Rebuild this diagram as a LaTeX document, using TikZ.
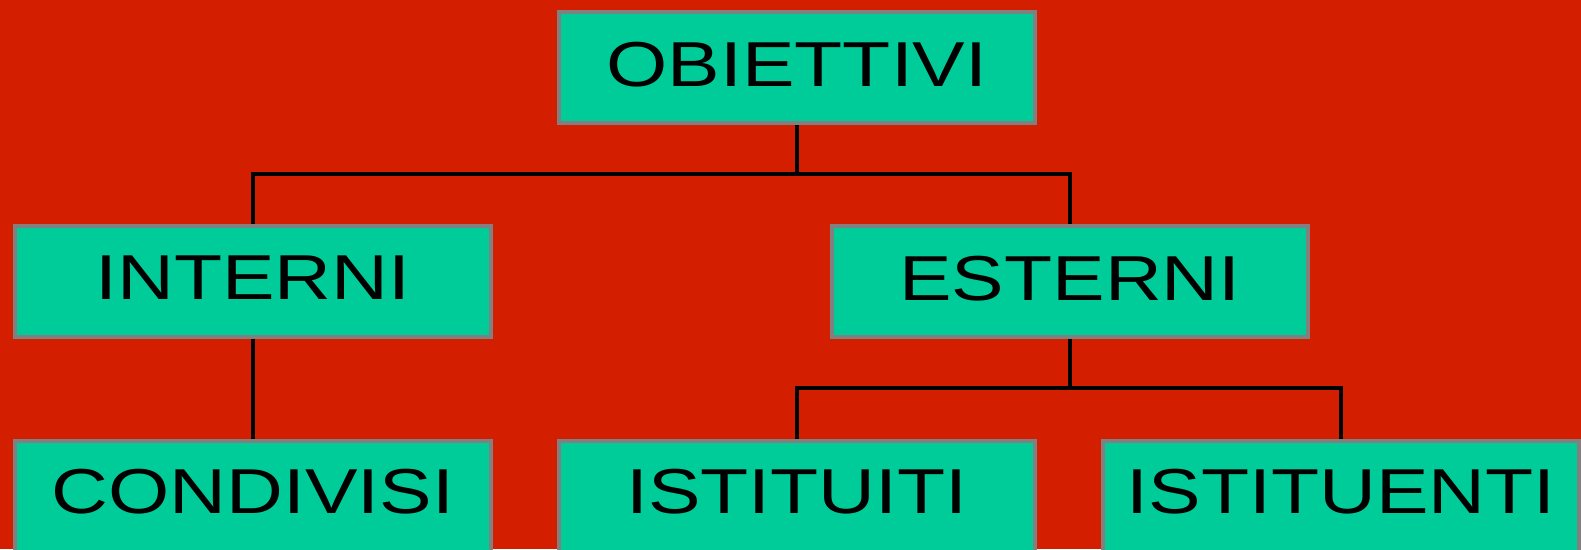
\documentclass[tikz,border=0pt]{standalone}
\usepackage{fontspec}
\setmainfont{Liberation Sans}[FakeStretch=1.24]
\definecolor{bgred}{RGB}{212,30,0}
\definecolor{boxgreen}{RGB}{0,204,153}
\definecolor{boxedge}{RGB}{128,128,128}
\begin{document}
\begin{tikzpicture}[x=1pt,y=-1pt,
  box/.style={rectangle, fill=boxgreen, draw=boxedge, line width=4pt,
    minimum width=476pt, minimum height=111pt, inner sep=0pt,
    text depth=6pt,
    font=\fontsize{63.5}{70}\selectfont},
  lowbox/.style={box, minimum height=121pt, text depth=20pt},
  link/.style={draw=black, line width=4pt}]
  \fill[bgred] (0,0) rectangle (1581,549);
  \useasboundingbox (0,0) rectangle (1581,549);

  \node[box] (obj) at (797,67.5) {OBIETTIVI};
  \node[box] (int) at (253,281) {INTERNI};
  \node[box] (est) at (1070,281) {ESTERNI};
  \node[lowbox] (con) at (253,501) {CONDIVISI};
  \node[lowbox] (ist) at (797,501) {ISTITUITI};
  \node[lowbox] (itu) at (1341,501) {ISTITUENTI};

  % first level branching
  \path (obj.south) ++(0,49) coordinate (j1);
  \draw[link] (obj.south) -- (j1);
  \draw[link] (int.north) |- (j1) -| (est.north);
  \draw[link] (int.south) -- (con.north);

  % branching under ESTERNI
  \path (est.south) ++(0,49) coordinate (j2);
  \draw[link] (est.south) -- (j2);
  \draw[link] (ist.north) |- (j2) -| (itu.north);
\end{tikzpicture}
\end{document}
